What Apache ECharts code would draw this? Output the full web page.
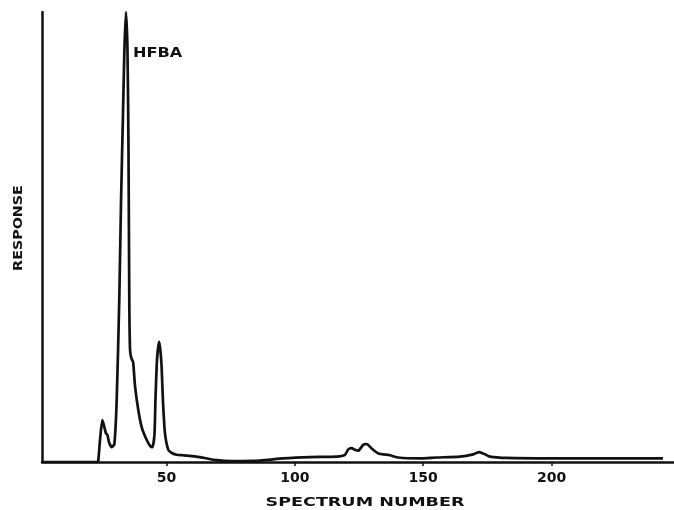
<!DOCTYPE html>
<html>
<head>
<meta charset="utf-8">
<script src="https://cdn.jsdelivr.net/npm/echarts@6/dist/echarts.min.js"></script>
<style>
html,body{margin:0;padding:0;background:#fff;}
#chart{width:674px;height:510px;}
</style>
</head>
<body>
<div id="chart"></div>
<script>
// ---- data ----
var spectrum = [1.5, 22.9, 23.4, 24.1, 25.0, 25.6, 26.4, 27.0, 27.6, 28.7, 29.7, 30.6, 31.6, 32.3, 33.0, 33.6, 34.2, 34.8, 35.2, 35.5, 35.8, 36.3, 37.0, 37.7, 39.0, 40.4, 42.3, 43.6, 44.5, 45.3, 45.7, 46.3, 47.1, 47.6, 48.1, 48.6, 49.4, 50.7, 52.1, 54.0, 56.4, 63.0, 69.5, 75.9, 86.4, 95.4, 105.9, 116.3, 119.5, 120.8, 122.1, 123.4, 124.7, 126.6, 128.0, 129.9, 132.5, 137.0, 140.3, 148.7, 155.2, 164.3, 169.5, 171.8, 174.1, 176.0, 182.5, 199.4, 218.9, 243.4];
var response = [0, 0, 0.2, 4.9, 9.3, 8.2, 6.4, 6.0, 4.4, 3.3, 4.0, 13.8, 36, 58.2, 76, 91.6, 100, 91.6, 69.3, 36, 24.9, 23.1, 22.2, 17.1, 11.6, 7.6, 4.9, 3.6, 3.3, 6.0, 13.8, 22.7, 26.7, 24.9, 21.1, 13.8, 6.4, 2.7, 2.0, 1.6, 1.5, 1.1, 0.4, 0.2, 0.3, 0.8, 1.1, 1.2, 1.6, 2.8, 3.1, 2.7, 2.5, 3.8, 4.0, 3.0, 1.9, 1.5, 1.0, 0.8, 1.0, 1.2, 1.7, 2.2, 1.7, 1.2, 0.9, 0.8, 0.8, 0.8];
var tickValues = [50, 100, 150, 200];
var xTitle = 'SPECTRUM NUMBER';
var yTitle = 'RESPONSE';
var peakLabel = 'HFBA';

var points = spectrum.map(function (s, i) { return [s, response[i]]; });
var ink = '#111';
var font = 'DejaVu Sans';

var chart = echarts.init(document.getElementById('chart'), null, {renderer: 'canvas'});
chart.setOption({
  animation: false,
  backgroundColor: '#fff',
  grid: {left: 42, right: 0, top: 12, bottom: 48},
  xAxis: {
    type: 'value',
    min: 1.5,
    max: 247.7,
    splitLine: {show: false},
    axisLine: {show: true, onZero: false, lineStyle: {color: ink, width: 2.5}},
    axisTick: {show: true, customValues: tickValues, length: 4, lineStyle: {color: ink, width: 1.5}},
    axisLabel: {show: true, customValues: tickValues, margin: 9, color: ink, fontFamily: font, fontWeight: 'bold', fontSize: 14}
  },
  yAxis: {
    type: 'value',
    min: 0,
    max: 100,
    splitLine: {show: false},
    axisLine: {show: true, lineStyle: {color: ink, width: 2.5}},
    axisTick: {show: false},
    axisLabel: {show: false}
  },
  series: [{
    type: 'line',
    data: points,
    symbol: 'none',
    smooth: 0.2,
    clip: false,
    lineStyle: {color: ink, width: 2.7}
  }],
  graphic: [
    {type: 'text', x: 133, y: 46, scaleX: 1.15, style: {text: peakLabel, fill: ink, font: 'bold 14px "DejaVu Sans"'}},
    {type: 'text', x: 365, y: 503, scaleX: 1.35, style: {text: xTitle, fill: ink, font: 'bold 13px "DejaVu Sans"', align: 'center', verticalAlign: 'middle'}},
    {type: 'text', x: 19, y: 228, rotation: Math.PI / 2, scaleX: 1.1, style: {text: yTitle, fill: ink, font: 'bold 13px "DejaVu Sans"', align: 'center', verticalAlign: 'middle'}}
  ]
});
</script>
</body>
</html>
